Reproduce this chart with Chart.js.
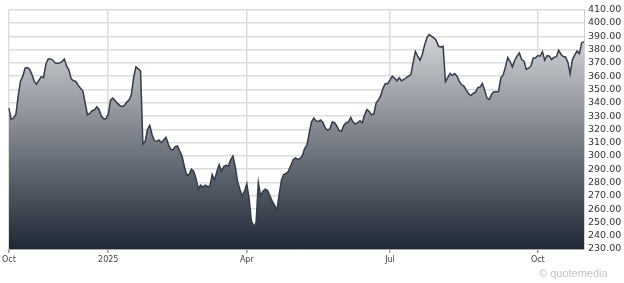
<!DOCTYPE html>
<html>
<head>
<meta charset="utf-8">
<script src="https://cdn.jsdelivr.net/npm/chart.js@4.4.1/dist/chart.umd.min.js"></script>
<style>
  body { margin: 0; background: #fff; }
  #wrap { position: relative; width: 624px; height: 283px; }
  #mark { position: absolute; left: 539px; top: 267px; font: 11px "Liberation Sans", Arial, sans-serif; color: #c2c2c2; }
</style>
</head>
<body>
<div id="wrap"><canvas id="chart"></canvas><div id="mark">© quotemedia</div></div>
<script>
// one close per trading day, starting 2024-10-30
const startDay = '2024-10-30';
const marketHolidays = ['2024-11-28', '2024-12-25', '2025-01-01', '2025-01-09', '2025-01-20',
  '2025-02-17', '2025-04-18', '2025-05-26', '2025-06-19', '2025-07-04', '2025-09-01'];

const closePrices = [
  336, 327.5, 328.5, 331, 345, 356, 360, 366, 366.5, 365,
  361, 356, 354, 357, 359.5, 359, 369, 373, 373, 372,
  370, 369.5, 370, 371, 373, 367.5, 364.5, 358, 356.5, 356,
  353, 351, 349, 340, 331, 332, 334, 334.5, 337, 335,
  330,
  328, 328, 331, 342, 343.5, 341.5, 339.5, 338, 337, 338,
  340.5, 342, 346, 359, 367, 365.5, 364, 309, 311, 320,
  323, 316, 311.5, 311, 312, 310, 312, 314, 309, 305,
  304.5, 307, 307.5, 303.5, 299.5, 292, 285.5, 286, 290, 288.5,
  283, 275.5, 278,
  276.5, 278, 277, 277, 286, 282, 288, 293.5, 288.5, 292,
  293, 292.5, 297, 300, 292, 281, 275, 270, 273.5, 279,
  268, 251, 247, 249.5, 280, 270, 273.5, 275, 274, 270,
  266, 263, 259, 271, 282, 286, 286.8, 288.5, 292.5, 297,
  298.5, 297.5, 298,
  300, 305.5, 308, 317, 325.5, 328.5, 326.3, 326, 327, 325,
  321, 319.3, 320.5, 325.5, 325, 322.5, 319, 318.5, 323, 325,
  325.5, 329, 325.5, 324, 325, 326.5, 325, 331, 335, 333.5,
  331, 331.5, 340, 342, 345.5, 351, 354.5, 354.3, 357, 360,
  358.5, 356.5, 358.8,
  356.5, 357.5, 358.8, 360, 361, 370, 378.5, 375, 372, 376.5,
  383.5, 389, 391.3, 390, 388.8, 387, 382.5, 382, 382.5, 356,
  359, 362, 360.5, 362, 360, 356.3, 353.5, 352.5, 349.5, 347,
  345.5, 347, 348, 351.3, 351.8, 354.5, 349.5, 343.5, 342.5, 346.5,
  348.3, 348.3, 348.5,
  358.8, 361, 367, 374, 371, 367, 372, 375, 377.5, 372.5,
  371.5, 365.3, 366, 367.5, 373.5, 373.8, 375.5, 375, 378.5, 372,
  375.5, 375, 372.5, 374.3, 374.5, 379.5, 376.5, 374.8, 374.5, 370.5,
  362, 372.5, 376, 379, 377, 385, 386
];

const tickDates = ['2024-10-30', '2025-01-02', '2025-04-01', '2025-07-01', '2025-10-01'];
const tickLabels = ['Oct', '2025', 'Apr', 'Jul', 'Oct'];

const yMin = 230;
const yMax = 410;
const yStep = 10;

function tradingDays(start, count) {
  const out = [];
  const d = new Date(start + 'T00:00:00Z');
  while (out.length < count) {
    const wd = d.getUTCDay();
    const s = d.toISOString().slice(0, 10);
    if (wd !== 0 && wd !== 6 && !marketHolidays.includes(s)) out.push(s);
    d.setUTCDate(d.getUTCDate() + 1);
  }
  return out;
}

const days = tradingDays(startDay, closePrices.length);
const tickIndex = tickDates.map(t => days.indexOf(t));
const tickText = {};
tickIndex.forEach((idx, i) => { tickText[idx] = tickLabels[i]; });

const ctx = document.getElementById('chart').getContext('2d');
new Chart(ctx, {
  type: 'line',
  data: {
    labels: days,
    datasets: [{
      data: closePrices,
      borderColor: '#323c4a',
      borderWidth: 1.5,
      pointRadius: 0,
      tension: 0,
      fill: 'start',
      backgroundColor: function(context) {
        const area = context.chart.chartArea;
        if (!area) return '#888';
        const g = context.chart.ctx.createLinearGradient(0, area.top, 0, area.bottom);
        g.addColorStop(0, '#e6e7e9');
        g.addColorStop(1, '#1f2836');
        return g;
      }
    }]
  },
  options: {
    responsive: true,
    maintainAspectRatio: false,
    animation: false,
    layout: { padding: { left: 7, top: 6, right: 0, bottom: 0 } },
    plugins: { legend: { display: false }, tooltip: { enabled: false } },
    scales: {
      x: {
        type: 'category',
        grid: { color: '#dcdcdc', lineWidth: 1.5, tickLength: 4, tickColor: '#999' },
        border: { color: '#aaa' },
        ticks: {
          autoSkip: false,
          maxRotation: 0,
          padding: 2,
          color: '#444',
          font: { family: 'DejaVu Sans', size: 8 },
          callback: (v) => tickText[v]
        },
        afterBuildTicks: (axis) => { axis.ticks = tickIndex.map(i => ({ value: i })); },
        afterFit: (s) => { s.height = 34; }
      },
      y: {
        position: 'right',
        min: yMin,
        max: yMax,
        grid: { color: '#dcdcdc', lineWidth: 1.5, drawTicks: false },
        border: { color: '#d0d0d0' },
        ticks: {
          stepSize: yStep,
          autoSkip: false,
          padding: 4,
          color: '#333',
          font: { family: 'DejaVu Sans', size: 9.5 },
          callback: (v) => v.toFixed(2)
        },
        afterFit: (s) => { s.width = 40; }
      }
    }
  }
});
</script>
</body>
</html>
